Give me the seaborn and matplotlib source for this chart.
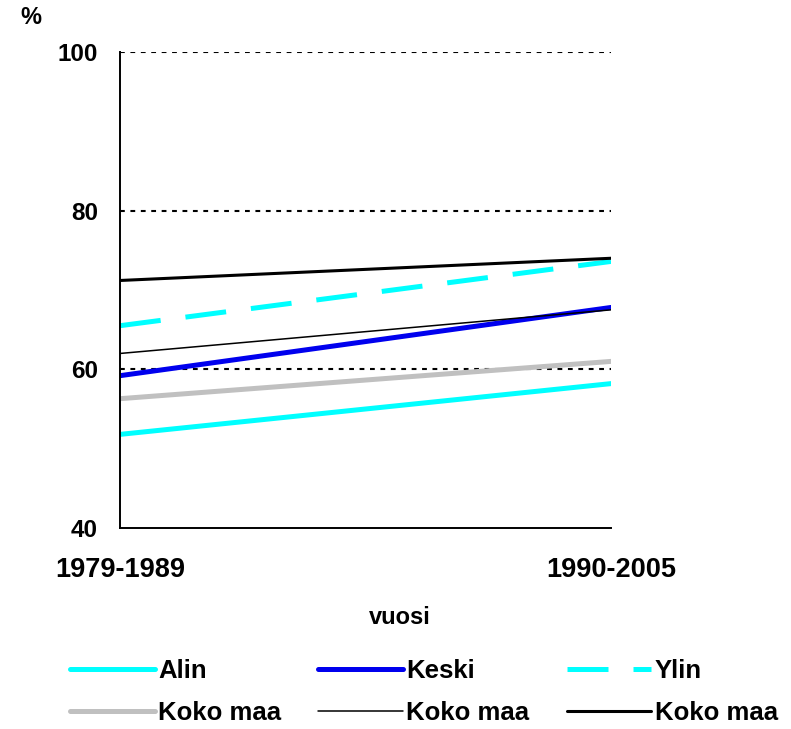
import pandas as pd
import matplotlib
matplotlib.use("Agg")
import matplotlib.pyplot as plt
import seaborn as sns

# ------------ data ------------
periods = ["1979-1989", "1990-2005"]
alin = [51.8, 58.2]
keski = [59.2, 67.8]
ylin = [65.5, 73.6]
koko_grey = [56.3, 61.0]
koko_thin = [62.0, 67.5]
koko_thick = [71.2, 74.0]
y_ticks = [40, 60, 80, 100]

series = [
    ("Alin", alin, dict(color="#00FFFF", lw=3.6)),
    ("Keski", keski, dict(color="#0000EE", lw=3.6)),
    ("Ylin", ylin, dict(color="#00FFFF", lw=3.6, dashes=(8.2, 5))),
    ("Koko maa", koko_grey, dict(color="#C0C0C0", lw=3.6)),
    ("Koko maa", koko_thin, dict(color="black", lw=1.1)),
    ("Koko maa", koko_thick, dict(color="black", lw=2.2)),
]

sns.set_style("white")
plt.rcParams["font.family"] = ["Liberation Sans", "DejaVu Sans"]
plt.rcParams["font.weight"] = "bold"
plt.rcParams["text.color"] = "black"
plt.rcParams["xtick.color"] = "black"
plt.rcParams["ytick.color"] = "black"

fig = plt.figure(figsize=(7.91, 7.29), dpi=100)
ax = fig.add_axes([120 / 791, 1 - 528 / 729, (611 - 120) / 791, (528 - 52) / 729])

handles = []
for name, vals, st in series:
    df = pd.DataFrame({"period": periods, "value": vals})
    sns.lineplot(data=df, x="period", y="value", ax=ax, color=st["color"],
                 linewidth=st["lw"], label=name, sort=False)
    line = ax.lines[-1]
    line.set_solid_capstyle("round")
    if "dashes" in st:
        line.set_dashes(st["dashes"])
    handles.append(line)

ax.set_xlim(0, 1)
ax.set_ylim(40, 100)
ax.set_yticks(y_ticks)
for v in y_ticks[1:]:
    ax.axhline(v, color="black", lw=1.5, ls=(0, (2.3, 2.7)), zorder=0)

ax.set_xlabel("")
ax.set_ylabel("")
ax.tick_params(axis="y", length=0, pad=16, labelsize=17.5)
ax.tick_params(axis="x", direction="in", length=6, width=1.4, pad=21, labelsize=19.5)
for s in ["top", "right"]:
    ax.spines[s].set_visible(False)
for s in ["left", "bottom"]:
    ax.spines[s].set_color("black")
    ax.spines[s].set_linewidth(1.4)
for lab in ax.get_xticklabels() + ax.get_yticklabels():
    lab.set_fontweight("bold")
    lab.set_color("black")

ax.get_legend().remove()
# matplotlib fills legend columns first, so interleave the rows
order = [0, 3, 1, 4, 2, 5]
fig.legend([handles[i] for i in order], [series[i][0] for i in order],
           ncol=3, loc="center left", bbox_to_anchor=(47 / 791, 1 - 692 / 729),
           frameon=False, handlelength=3.3, handletextpad=0.12,
           columnspacing=1.45, labelspacing=0.72,
           prop={"weight": "bold", "size": 18.5})

fig.text(20 / 791, 1 - 18 / 729, "%", fontsize=17, fontweight="bold", va="center", ha="left")
fig.text(400 / 791, 1 - 618 / 729, "vuosi", fontsize=17, fontweight="bold", va="center", ha="center")

fig.savefig("out.png", dpi=100)
